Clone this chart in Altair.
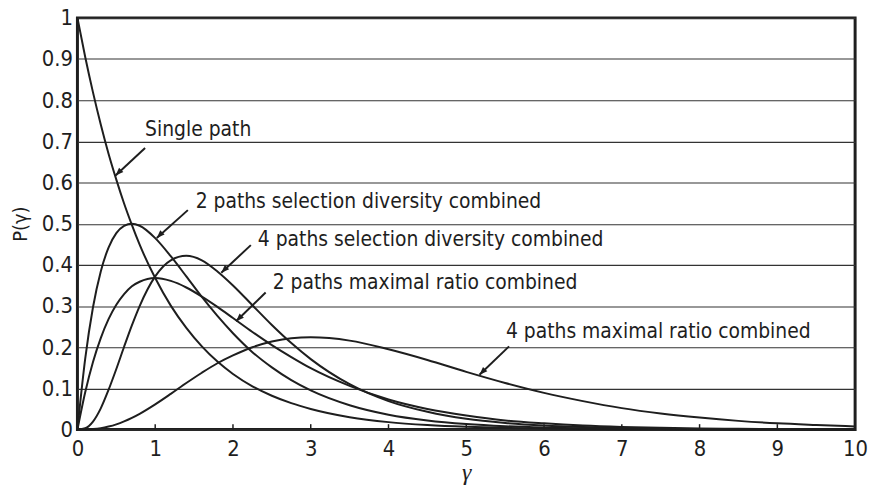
import altair as alt
import pandas as pd

# ---- data ----
gamma = [0, 0.1, 0.2, 0.3, 0.4, 0.5, 0.6, 0.7, 0.8, 1.0, 1.2, 1.4, 1.6, 1.8, 2.0,
         2.25, 2.5, 2.75, 3.0, 3.5, 4.0, 4.5, 5.0, 5.5, 6.0, 6.5, 7.0, 7.5, 8.0,
         8.5, 9.0, 9.5, 10.0]

single_path = [1.0, 0.905, 0.819, 0.741, 0.670, 0.607, 0.549, 0.497, 0.449, 0.368,
               0.301, 0.247, 0.202, 0.165, 0.135, 0.105, 0.082, 0.064, 0.050, 0.030,
               0.018, 0.011, 0.0067, 0.0041, 0.0025, 0.0015, 0.0009, 0.0006, 0.0003,
               0.0002, 0.0001, 0.0001, 0.0]

sel2 = [0.0, 0.172, 0.297, 0.384, 0.442, 0.477, 0.495, 0.500, 0.495, 0.465, 0.421,
        0.372, 0.322, 0.276, 0.234, 0.188, 0.151, 0.120, 0.095, 0.059, 0.036, 0.022,
        0.0134, 0.0081, 0.0049, 0.0030, 0.0018, 0.0011, 0.0007, 0.0004, 0.0002,
        0.0001, 0.0001]

sel4 = [0.0, 0.0031, 0.0194, 0.0515, 0.0963, 0.147, 0.201, 0.253, 0.300, 0.372,
        0.411, 0.422, 0.411, 0.384, 0.350, 0.302, 0.254, 0.210, 0.171, 0.110, 0.069,
        0.043, 0.026, 0.016, 0.0098, 0.006, 0.0036, 0.0022, 0.0013, 0.0008, 0.0005,
        0.0003, 0.0002]

mrc2 = [0.0, 0.0905, 0.164, 0.222, 0.268, 0.303, 0.329, 0.348, 0.359, 0.368, 0.361,
        0.345, 0.323, 0.298, 0.271, 0.237, 0.205, 0.176, 0.149, 0.106, 0.073, 0.050,
        0.034, 0.022, 0.015, 0.0098, 0.0064, 0.0041, 0.0027, 0.0017, 0.0011, 0.0007,
        0.0005]

mrc4 = [0.0, 0.0002, 0.0011, 0.0033, 0.0072, 0.0126, 0.0198, 0.0284, 0.0383, 0.0613,
        0.0867, 0.113, 0.138, 0.161, 0.180, 0.200, 0.214, 0.222, 0.224, 0.216, 0.195,
        0.169, 0.140, 0.113, 0.089, 0.069, 0.052, 0.039, 0.029, 0.021, 0.015, 0.011,
        0.0076]

series_names = ["Single path", "2 paths selection diversity combined",
                "4 paths selection diversity combined", "2 paths maximal ratio combined",
                "4 paths maximal ratio combined"]
series_values = [single_path, sel2, sel4, mrc2, mrc4]

# annotation labels: text anchor (left, middle) and arrow start -> tip
label_text = series_names
label_x = [0.87, 1.52, 2.32, 2.51, 5.51]
label_y = [0.728, 0.552, 0.460, 0.357, 0.236]
arrow_x1 = [0.87, 1.42, 2.23, 2.42, 5.55]
arrow_y1 = [0.684, 0.533, 0.448, 0.333, 0.202]
arrow_x2 = [0.49, 1.02, 1.85, 2.04, 5.17]
arrow_y2 = [0.617, 0.465, 0.381, 0.263, 0.133]

tick_x = [1, 2, 3, 4, 5, 6, 7, 8, 9]
y_ticks = [0, 0.1, 0.2, 0.3, 0.4, 0.5, 0.6, 0.7, 0.8, 0.9, 1.0]
x_ticks = [0, 1, 2, 3, 4, 5, 6, 7, 8, 9, 10]

# ---- tables ----
rows = []
for name, vals in zip(series_names, series_values):
    for g, v in zip(gamma, vals):
        rows.append({"series": name, "gamma": g, "p": v})
curves_df = pd.DataFrame(rows)
labels_df = pd.DataFrame({"text": label_text, "x": label_x, "y": label_y})
arrows_df = pd.DataFrame({"x1": arrow_x1, "y1": arrow_y1, "x2": arrow_x2, "y2": arrow_y2})
ticks_df = pd.DataFrame({"x": tick_x, "y": [0.0] * len(tick_x), "y2": [0.013] * len(tick_x)})

FONT = "Liberation Sans Narrow, DejaVu Sans Condensed, sans-serif"
INK = "#1e1e1e"

xscale = alt.Scale(domain=[0, 10], nice=False)
yscale = alt.Scale(domain=[0, 1], nice=False)

x_axis = alt.Axis(values=x_ticks, format="~g", ticks=False, domain=False, grid=False,
                  labelFlush=False,
                  labelFont=FONT, labelFontSize=22, labelColor=INK, labelPadding=9,
                  title="γ", titleFont="Liberation Serif", titleFontStyle="italic",
                  titleFontWeight="normal", titleFontSize=24, titleColor=INK,
                  titlePadding=1)
y_axis = alt.Axis(values=y_ticks, format="~g", ticks=False, domain=False, grid=True,
                  labelFlush=False,
                  gridColor="#333333", gridWidth=1.1, gridOpacity=1,
                  labelFont=FONT, labelFontSize=22, labelColor=INK, labelPadding=5,
                  title="P(γ)", titleFont=FONT, titleFontWeight="normal",
                  titleFontSize=20, titleColor=INK, titlePadding=11)

curves = alt.Chart(curves_df).mark_line(
    interpolate="monotone", color=INK, strokeWidth=2
).encode(
    x=alt.X("gamma:Q", scale=xscale, axis=x_axis),
    y=alt.Y("p:Q", scale=yscale, axis=y_axis),
    detail="series:N",
)

ticks = alt.Chart(ticks_df).mark_rule(color=INK, strokeWidth=1.5).encode(
    x=alt.X("x:Q", scale=xscale),
    y=alt.Y("y:Q", scale=yscale),
    y2="y2:Q",
)

arrow_lines = alt.Chart(arrows_df).mark_rule(color=INK, strokeWidth=2).encode(
    x=alt.X("x1:Q", scale=xscale), y=alt.Y("y1:Q", scale=yscale),
    x2="x2:Q", y2="y2:Q",
)

arrow_heads = alt.Chart(arrows_df).mark_point(
    shape="M0,0 L-0.38,1 L0.38,1 Z", filled=True, color=INK, opacity=1,
    size=260, angle=225
).encode(
    x=alt.X("x2:Q", scale=xscale), y=alt.Y("y2:Q", scale=yscale),
)

labels = alt.Chart(labels_df).mark_text(
    align="left", baseline="middle", font=FONT, fontSize=21, color=INK
).encode(
    x=alt.X("x:Q", scale=xscale), y=alt.Y("y:Q", scale=yscale), text="text:N",
)

chart = alt.layer(curves, ticks, arrow_lines, arrow_heads, labels).properties(
    width=784, height=415,
    autosize=alt.AutoSizeParams(type="none"),
    padding={"left": 70, "top": 8, "right": 14, "bottom": 58},
    background="white",
).configure_view(
    stroke=INK, strokeWidth=3
)

chart.save("out.html", embed_options={"renderer": "svg", "actions": False})
